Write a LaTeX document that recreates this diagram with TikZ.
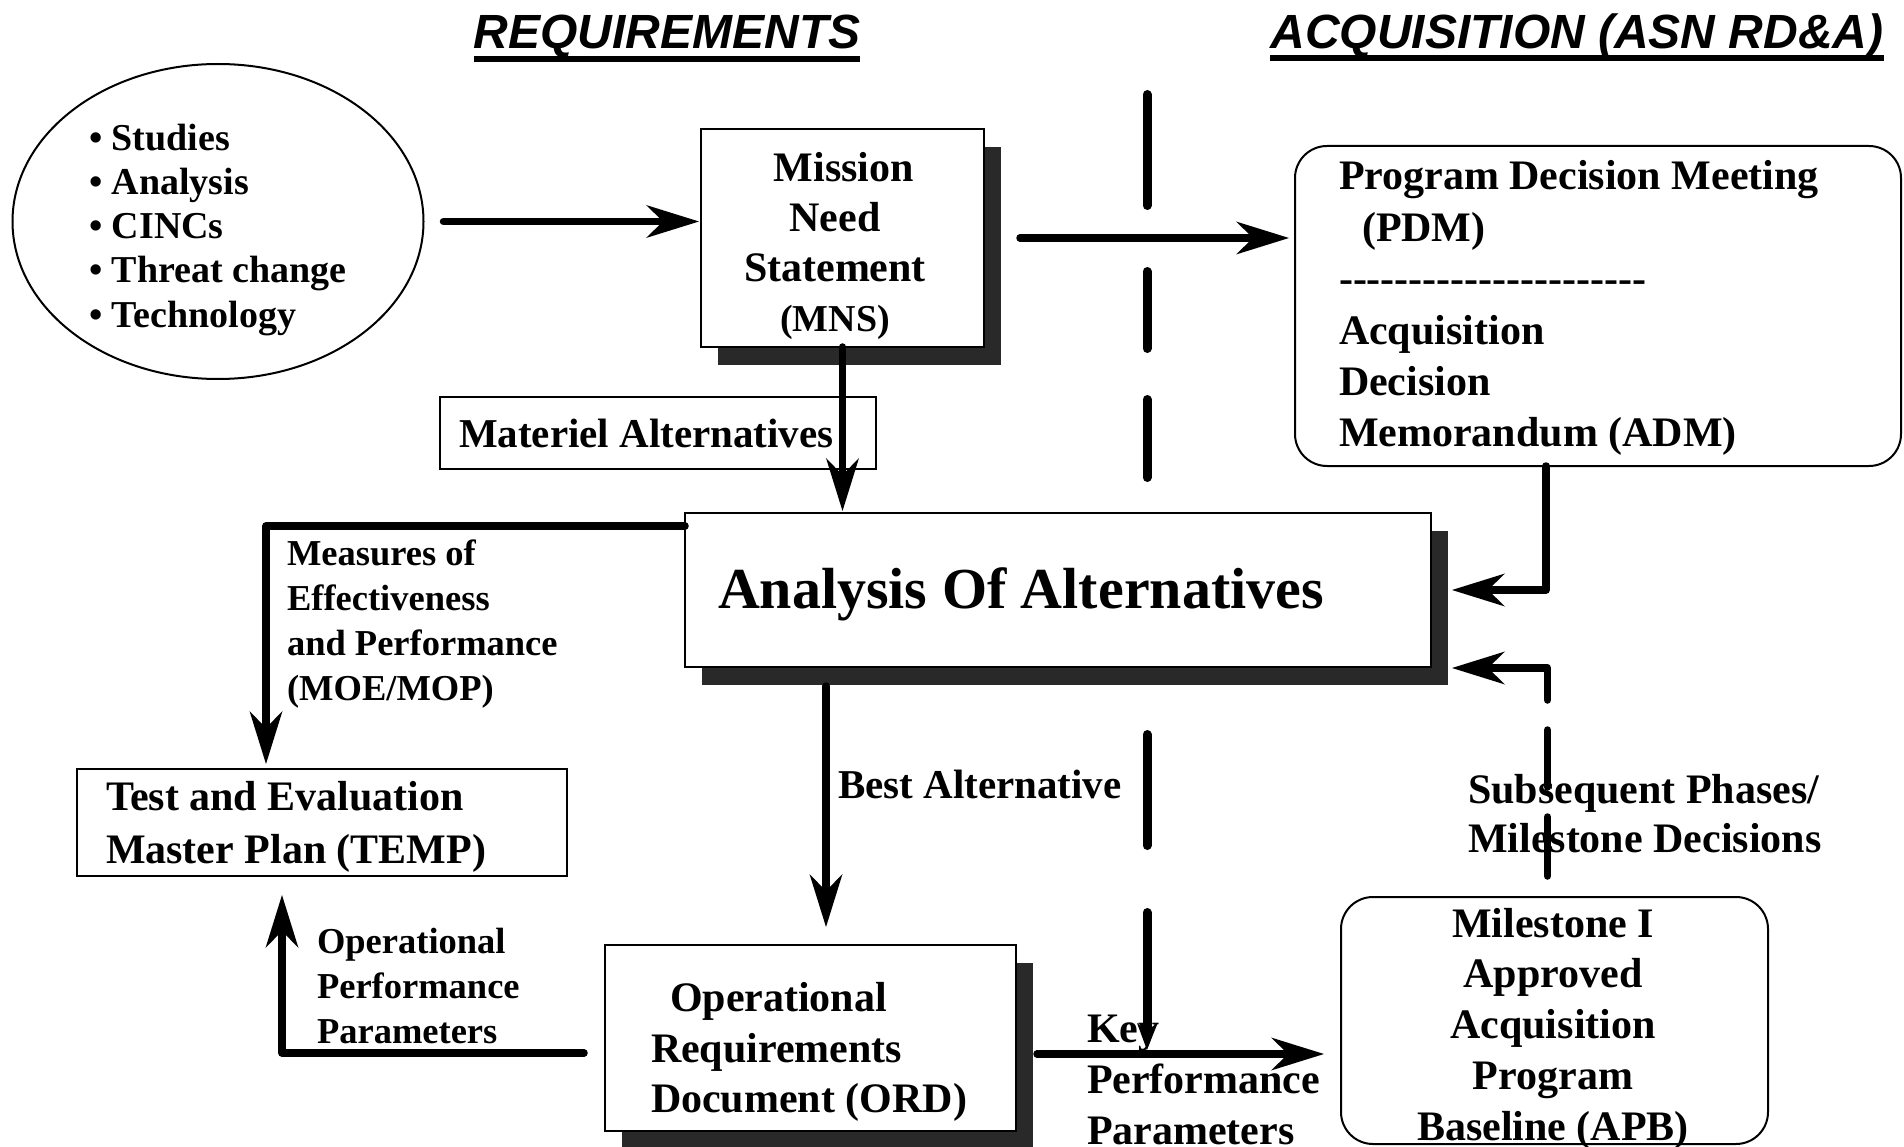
\documentclass[tikz,border=0pt]{standalone}
\usepackage{fontspec}
\setmainfont{Liberation Serif}
\newfontfamily\headfont{Liberation Sans}
\usetikzlibrary{arrows.meta,shapes.geometric,shadows,calc}

\tikzset{
  every node/.style={inner sep=0pt, outer sep=0pt},
  boxline/.style={draw=black, line width=2pt, fill=white},
  plainbox/.style={boxline, rectangle},
  shadowbox/.style={boxline, rectangle,
    drop shadow={shadow xshift=17pt, shadow yshift=-18pt, fill=black!84, opacity=1}},
  roundbox/.style={boxline, rectangle, rounded corners=32pt},
  conn/.style={line width=7.5pt, line cap=round, line join=round},
  bigtip/.style={-{Stealth[length=53pt, width=33pt, inset=17pt, line width=0pt]}},
  divider/.style={line width=9pt, line cap=round},
  smalltip/.style={-{Stealth[length=27pt, width=20pt, inset=8pt, line width=0pt]}},
  heading/.style={font=\headfont\bfseries\itshape\fontsize{48}{56}\selectfont, anchor=base},
  multiline/.style={anchor=north west, align=left},
  bodyL/.style={font=\bfseries\fontsize{42}{#1}\selectfont},
  bodyS/.style={font=\bfseries\fontsize{36.5}{45}\selectfont},
}

\begin{document}
\begin{tikzpicture}[x=1pt, y=-1pt]
  \useasboundingbox (0,0) rectangle (1904,1147);

  % ---- column headings ----
  \node[heading] (req) at (667,49) {REQUIREMENTS};
  \node[heading] (acq) at (1577,49) {ACQUISITION (ASN RD\&A)};
  \draw[line width=6pt] ($(req.base west)+(0,10)$) -- ($(req.base east)+(0,10)$);
  \draw[line width=5.5pt] ($(acq.base west)+(0,9)$) -- ($(acq.base east)+(0,9)$);

  % ---- boxes ----
  \node[draw, ellipse, line width=2pt, minimum width=411pt, minimum height=315pt] (src) at (218,221.5) {};
  \node[shadowbox, minimum width=283pt, minimum height=218pt] (mns) at (842.5,238) {};
  \node[plainbox, minimum width=436pt, minimum height=72pt] (mat) at (658,433) {};
  \node[roundbox, minimum width=606pt, minimum height=320pt] (pdm) at (1598,306) {};
  \node[shadowbox, minimum width=746pt, minimum height=154pt] (aoa) at (1058,590) {};
  \node[plainbox, minimum width=490pt, minimum height=107pt] (temp) at (322,822.5) {};
  \node[shadowbox, minimum width=411pt, minimum height=186pt] (ord) at (810.5,1038) {};
  \node[roundbox, minimum width=427pt, minimum height=247pt] (apb) at (1554.5,1020.5) {};

  % ---- texts ----
  \node[multiline, font=\bfseries\fontsize{38}{44.3}\selectfont] (srctxt) at (89,119)
    {\strut• Studies\\• Analysis\\• CINCs\\• Threat change\\• Technology};
  \node[bodyL=50, align=center, anchor=north] (mnstxt) at (835,147)
    {\strut\hspace*{18pt}Mission\\Need\\Statement\\{\fontsize{38}{50}\selectfont(MNS)}};
  \node[font=\bfseries\fontsize{41}{48}\selectfont, anchor=base west] (mattxt) at (459,447)
    {Materiel Alternatives};
  \node[multiline, bodyL=51.4] (pdmtxt) at (1339,154)
    {\strut Program Decision Meeting\\\hspace*{23pt}(PDM)\\
     -{}-{}-{}-{}-{}-{}-{}-{}-{}-{}-{}-{}-{}-{}-{}-{}-{}-{}-{}-{}-{}-{}\\
     Acquisition\\Decision\\Memorandum (ADM)};
  \node[font=\bfseries\fontsize{58}{66}\selectfont, anchor=base west] (aoatxt) at (718,608)
    {Analysis Of Alternatives};
  \node[multiline, bodyS] (meastxt) at (287,533.5)
    {\strut Measures of\\Effectiveness\\and Performance\\(MOE/MOP)};
  \node[multiline, bodyL=53] (temptxt) at (106,773)
    {\strut Test and Evaluation\\Master Plan (TEMP)};
  \node[font=\bfseries\fontsize{41}{48}\selectfont, anchor=base west] (batxt) at (838,798)
    {Best Alternative};
  \node[multiline, bodyL=49] (subtxt) at (1468,768.7)
    {\strut Subsequent Phases/\\Milestone Decisions};
  \node[multiline, bodyS] (opptxt) at (317,921.5)
    {\strut Operational\\Performance\\Parameters};
  \node[multiline, bodyL=50.5] (ordtxt) at (651,976.6)
    {\strut\hspace*{19pt}Operational\\Requirements\\Document (ORD)};
  \node[multiline, bodyL=51] (kptxt) at (1087,1006.3)
    {\strut Key\\Performance\\Parameters};
  \node[bodyL=50.75, align=center, anchor=north] (apbtxt) at (1553,901.5)
    {\strut Milestone I\\Approved\\Acquisition\\Program\\Baseline (APB)};

  % ---- connectors ----
  \draw[conn, bigtip, shorten >=2pt] ([xshift=20pt]src.east) -- (src.east -| mns.west);
  \draw[conn, bigtip, shorten >=6pt] ([xshift=36pt]mns.east) -- (mns.east -| pdm.west);
  \draw[conn, bigtip, shorten >=2pt] (mns.south) -- (mns.south |- aoa.north);
  \draw[conn, bigtip] ([xshift=-52pt]pdm.south) |- ([xshift=21pt]aoa.east);
  \draw[conn, bigtip] ([yshift=-13pt]aoa.north west) -| ([xshift=-56pt, yshift=5pt]temp.north);
  \coordinate (oppStart) at ([xshift=-21pt, yshift=-15pt]ord.west);
  \draw[conn, bigtip] (oppStart) -| ([xshift=-40pt, yshift=-19pt]temp.south);
  \coordinate (baStart) at ([xshift=-232pt, yshift=-19pt]aoa.south);
  \draw[conn, bigtip, shorten >=18pt] (baStart) -- (baStart |- ord.north);
  \coordinate (kpStart) at ([xshift=21pt, yshift=-16pt]ord.east);
  \draw[conn, bigtip, shorten >=17pt] (kpStart) -- (kpStart -| apb.west);

  % dashed return path from the baseline to the analysis box
  \coordinate (spine) at ([xshift=-7pt]apb.north);
  \draw[conn] ($(spine)+(0,-21)$) -- ($(spine)+(0,-80)$);
  \draw[conn] ($(spine)+(0,-110)$) -- ($(spine)+(0,-167)$);
  \draw[conn, bigtip] ($(spine)+(0,-197)$) |- ([xshift=21pt, yshift=-1pt]aoa.south east);

  % ---- dashed boundary between requirements and acquisition ----
  \draw[divider] (1147,94.5) -- (1147,205.5);
  \draw[divider] (1147,271.5) -- (1147,348.5);
  \draw[divider] (1147,399.5) -- (1147,477.5);
  \draw[divider] (1147,734.5) -- (1147,845.5);
  \draw[divider, smalltip] (1147,912.5) -- (1147,1050);
\end{tikzpicture}
\end{document}
